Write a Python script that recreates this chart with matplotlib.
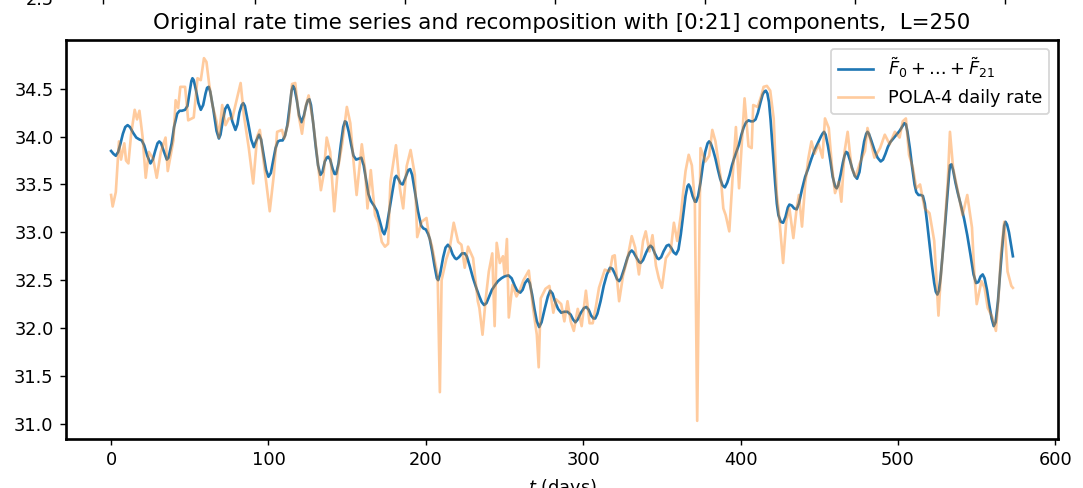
import matplotlib.pyplot as plt
import numpy as np

# Smoothed recomposition (sum of the first 22 elementary components)
recon_days = [0, 1.5, 3, 4.5, 6, 7.5, 9, 10.5, 12, 14, 16, 18, 19.5, 21, 23, 25, 26.5, 28, 29.5, 30.6,
              31.8, 33, 35.4, 36.5, 38.5, 40, 42, 43.5, 45, 47, 48.5, 50, 51, 51.7, 52.5, 54, 55.5, 57, 58.5, 60,
              61, 62, 63, 65, 67, 68.5, 69.5, 71, 72.5, 74, 75.5, 77, 79, 80.3, 81.5, 83, 84, 85, 87, 89,
              90.7, 92.3, 94, 95.3, 97, 98.5, 100, 101.5, 103, 104.5, 106, 107.5, 109, 110.5, 112, 113.5, 114.7, 115.6, 116.6, 118,
              119.5, 121, 122.5, 124, 125, 126, 127, 128.5, 130, 131.5, 133, 134.3, 135.8, 137, 138, 139.2, 140.8, 142, 143, 144.5,
              146, 147.5, 148.6, 149.5, 151, 152.5, 154, 155.7, 157.5, 159, 160.5, 162, 163.5, 165, 167, 169, 171, 172.5, 173.6, 175,
              177, 179, 180.3, 181.2, 182.5, 184, 185.3, 187, 188.8, 190, 191.3, 193, 195, 197, 198.5, 200, 201.5, 202.5, 204, 205.5,
              207, 207.8, 209, 211, 212.5, 214, 215.5, 217, 218.5, 219.4, 221, 223, 224.7, 226, 228, 230, 232, 234, 235.5, 237,
              238.5, 240, 242, 244, 245.8, 248, 250, 252.5, 254.5, 256.5, 258, 260, 261.5, 263, 264.8, 266, 267.5, 269, 270.5, 272,
              273.5, 275.5, 277.5, 279, 280.5, 282, 284, 286, 288, 290, 292, 293.5, 295, 296.5, 298.5, 300.5, 302, 303.5, 305, 306.5,
              307.6, 309, 311, 313, 315, 317, 318.5, 320, 321.5, 322.8, 324, 326, 328, 329.5, 330.8, 332, 334, 335.5, 336.5, 338,
              340, 341.5, 342.8, 344, 345.5, 347, 348, 349.5, 351, 353, 354.4, 355.8, 357.5, 359, 360.5, 362, 363.5, 365, 366.2, 367,
              368, 369.5, 371, 371.7, 373, 374.5, 376, 377.5, 379, 380, 381, 382.5, 384, 385.5, 387, 388.5, 390, 391.5, 393, 394.5,
              396, 397.5, 399, 400.5, 402, 403.5, 405, 406.5, 408, 409.5, 411, 412.5, 414, 415, 416, 417, 418, 419, 420, 421,
              422, 423, 424, 425.5, 427, 428.5, 430, 431, 432.5, 434, 435.6, 437, 439, 441, 443, 445, 447, 449, 451, 452,
              453, 454, 455.5, 457, 458.5, 460, 461, 462, 463.5, 465, 466, 467, 468, 469.5, 471, 472.5, 474, 475.5, 477, 478.5,
              479.8, 480.6, 481.5, 483, 485, 487, 489, 490.5, 492, 493.5, 495, 497, 499, 501, 502.5, 504, 505, 506, 507.5, 509,
              510.5, 511.6, 513, 514.5, 515.8, 517, 518.5, 520, 521.5, 523, 524, 525, 526, 527, 528.5, 530, 531.5, 532.5, 533, 534,
              535, 536.5, 538, 540, 542, 544, 546, 548, 549.6, 551, 552.5, 553.8, 555, 556.5, 558, 559.5, 560.8, 562, 563.5, 565,
              566.5, 567.5, 568.3, 569.3, 570.5, 572, 573]
recon_vals = [33.85, 33.82, 33.80, 33.84, 33.93, 34.03, 34.10, 34.12, 34.10, 34.04, 33.99, 33.97, 33.96, 33.91, 33.80, 33.72, 33.76, 33.85, 33.93, 33.95,
              33.93, 33.87, 33.76, 33.78, 33.93, 34.10, 34.24, 34.27, 34.27, 34.28, 34.32, 34.48, 34.58, 34.61, 34.59, 34.48, 34.35, 34.28, 34.33, 34.45,
              34.51, 34.52, 34.47, 34.28, 34.06, 33.98, 34.02, 34.17, 34.29, 34.33, 34.27, 34.16, 34.07, 34.13, 34.25, 34.33, 34.35, 34.32, 34.15, 33.97,
              33.89, 33.96, 34.02, 33.97, 33.80, 33.65, 33.58, 33.62, 33.75, 33.88, 33.95, 33.96, 33.96, 34.01, 34.12, 34.32, 34.48, 34.53, 34.50, 34.38,
              34.22, 34.15, 34.22, 34.33, 34.38, 34.39, 34.33, 34.13, 33.90, 33.70, 33.60, 33.63, 33.74, 33.78, 33.79, 33.76, 33.66, 33.61, 33.61, 33.72,
              33.92, 34.10, 34.16, 34.15, 34.05, 33.92, 33.80, 33.76, 33.77, 33.78, 33.70, 33.55, 33.40, 33.33, 33.28, 33.22, 33.10, 33.01, 32.98, 33.05,
              33.25, 33.45, 33.57, 33.59, 33.56, 33.51, 33.50, 33.57, 33.65, 33.66, 33.60, 33.43, 33.22, 33.07, 33.04, 33.03, 32.98, 32.93, 32.80, 32.65,
              32.52, 32.50, 32.56, 32.74, 32.84, 32.87, 32.84, 32.77, 32.73, 32.72, 32.74, 32.78, 32.78, 32.75, 32.64, 32.52, 32.42, 32.33, 32.27, 32.24,
              32.26, 32.32, 32.40, 32.45, 32.49, 32.52, 32.54, 32.55, 32.52, 32.44, 32.39, 32.37, 32.40, 32.47, 32.51, 32.47, 32.35, 32.20, 32.07, 32.01,
              32.06, 32.20, 32.33, 32.39, 32.36, 32.28, 32.20, 32.16, 32.17, 32.17, 32.14, 32.09, 32.06, 32.09, 32.16, 32.21, 32.22, 32.19, 32.13, 32.10,
              32.10, 32.15, 32.28, 32.44, 32.56, 32.63, 32.62, 32.57, 32.51, 32.49, 32.52, 32.62, 32.73, 32.79, 32.81, 32.79, 32.73, 32.69, 32.68, 32.71,
              32.79, 32.84, 32.86, 32.84, 32.78, 32.73, 32.72, 32.74, 32.80, 32.86, 32.87, 32.84, 32.79, 32.77, 32.82, 32.98, 33.18, 33.38, 33.48, 33.50,
              33.47, 33.38, 33.32, 33.32, 33.38, 33.52, 33.70, 33.84, 33.93, 33.95, 33.93, 33.86, 33.77, 33.66, 33.56, 33.49, 33.47, 33.52, 33.60, 33.70,
              33.78, 33.85, 33.92, 34.02, 34.10, 34.15, 34.17, 34.16, 34.16, 34.18, 34.25, 34.35, 34.44, 34.47, 34.48, 34.45, 34.36, 34.18, 33.95, 33.72,
              33.50, 33.30, 33.18, 33.11, 33.10, 33.16, 33.26, 33.29, 33.28, 33.25, 33.24, 33.30, 33.45, 33.58, 33.67, 33.77, 33.86, 33.93, 34.00, 34.03,
              34.05, 34.02, 33.90, 33.75, 33.58, 33.48, 33.46, 33.49, 33.60, 33.73, 33.80, 33.84, 33.83, 33.75, 33.66, 33.59, 33.56, 33.63, 33.80, 33.95,
              34.03, 34.05, 34.03, 33.96, 33.86, 33.78, 33.74, 33.76, 33.82, 33.89, 33.94, 33.98, 34.02, 34.06, 34.10, 34.14, 34.13, 34.05, 33.88, 33.68,
              33.50, 33.42, 33.39, 33.39, 33.38, 33.30, 33.10, 32.88, 32.66, 32.47, 32.38, 32.35, 32.39, 32.52, 32.80, 33.10, 33.42, 33.62, 33.70, 33.71,
              33.65, 33.52, 33.41, 33.28, 33.14, 32.97, 32.77, 32.56, 32.47, 32.48, 32.54, 32.56, 32.52, 32.40, 32.24, 32.10, 32.02, 32.06, 32.28, 32.60,
              32.90, 33.07, 33.11, 33.08, 33.00, 32.85, 32.75]

# POLA-4 daily rate
rate_days = [0, 1, 3, 5, 6.3, 8.4, 9.5, 11, 12.7, 15, 16.5, 18, 20, 22, 24, 26.7, 29, 31.6, 34.6, 36,
             39.6, 41, 42.6, 44, 47, 49, 52.5, 54.9, 57, 59, 60.6, 62.3, 64.4, 67, 68.5, 70.6, 72.7, 74.8, 77, 79,
             82.3, 84.4, 87.5, 90.3, 92.8, 94.5, 97.4, 100.8, 103.4, 105.5, 108.6, 110, 112.8, 115, 117, 119.2, 121.3, 123.4, 125.5, 128.3,
             131, 133.3, 135, 137, 139.2, 141.8, 144, 146.8, 149.8, 152, 154, 156, 159.3, 161.4, 162.9, 165, 167.7, 169.8, 172, 174,
             176, 177.5, 181, 183.5, 185.6, 187.8, 190.3, 193, 194.5, 197.3, 200.4, 202, 203.8, 205.7, 207.5, 208.9, 210, 213, 215, 217.7,
             220.5, 222.6, 224.7, 226.8, 230, 233, 234, 236, 238, 240, 242.2, 243.7, 245, 247, 249, 250, 251.5, 252.7, 255, 257.6,
             260, 262, 265.4, 268, 270.5, 271.7, 273, 276, 278.5, 281, 282.7, 286, 288, 290, 292, 294, 296.5, 299, 301.7, 304,
             306, 308, 310, 313.7, 316.9, 318.6, 320, 322.8, 325.3, 328, 330.8, 333, 335.4, 338, 339.7, 342, 344, 346.2, 348, 350,
             352.5, 355.5, 357.6, 359.7, 362, 363.3, 365, 367, 369, 370.9, 372.4, 374.5, 377.6, 380, 382, 384, 387.5, 389, 390.5, 392.8,
             395, 397, 399, 402.5, 405, 407, 408, 410.8, 413, 414.6, 416.7, 418.8, 421, 423, 424, 427, 429, 431, 433.5, 435.6,
             437, 439, 441, 443, 445, 447, 449.6, 452, 453.6, 456, 458, 460, 462.4, 464, 466, 468, 470.4, 473, 475.7, 479,
             480.6, 483, 485, 488.6, 491.6, 494.7, 498, 501, 503, 505, 507, 509.5, 511.6, 514, 516.9, 520, 523, 525.7, 527, 529,
             531.6, 533, 535, 538, 541, 544, 547, 548.5, 550, 553, 555, 557, 560, 562.2, 564, 565.4, 567.5, 569.6, 572, 573]
rate_vals = [33.39, 33.27, 33.42, 33.95, 33.76, 33.93, 33.75, 33.72, 34.02, 34.28, 34.18, 34.27, 34.00, 33.57, 33.84, 33.77, 33.57, 33.84, 33.99, 33.64,
             33.96, 34.38, 34.30, 34.52, 34.52, 34.17, 34.20, 34.61, 34.59, 34.82, 34.78, 34.55, 34.33, 34.16, 33.99, 34.33, 34.12, 34.19, 34.19, 34.33,
             34.56, 34.22, 33.88, 33.51, 34.00, 34.07, 33.68, 33.22, 33.60, 34.05, 34.07, 33.98, 34.16, 34.55, 34.56, 34.22, 34.03, 34.30, 34.43, 34.16,
             33.78, 33.44, 33.60, 33.99, 33.84, 33.22, 33.65, 33.92, 34.31, 34.14, 33.75, 33.39, 33.92, 33.65, 33.25, 33.65, 33.18, 33.10, 32.90, 32.85,
             32.88, 33.53, 33.91, 33.46, 33.25, 33.69, 33.86, 33.60, 32.95, 33.11, 33.15, 32.96, 32.86, 32.70, 32.55, 31.33, 32.50, 32.72, 32.82, 33.10,
             32.90, 32.87, 32.63, 32.85, 32.73, 32.28, 32.21, 31.93, 32.30, 32.59, 32.78, 32.02, 32.89, 32.68, 32.75, 32.56, 32.93, 32.11, 32.45, 32.33,
             32.41, 32.50, 32.60, 32.22, 31.93, 31.59, 32.31, 32.41, 32.44, 32.16, 32.30, 32.25, 32.07, 32.28, 32.07, 31.97, 32.20, 32.02, 32.39, 32.05,
             32.05, 32.22, 32.42, 32.61, 32.59, 32.75, 32.76, 32.28, 32.55, 32.72, 32.96, 32.84, 32.56, 32.91, 33.01, 32.80, 32.97, 32.65, 32.52, 32.42,
             32.73, 32.80, 33.10, 32.91, 33.18, 33.39, 33.64, 33.81, 33.70, 33.32, 31.03, 33.88, 33.74, 33.80, 34.07, 33.95, 33.55, 33.25, 33.18, 33.01,
             33.60, 34.10, 33.46, 34.40, 33.90, 33.88, 34.33, 34.31, 34.42, 34.52, 34.53, 34.48, 34.19, 33.39, 33.25, 32.68, 33.12, 33.25, 32.94, 33.25,
             33.39, 33.06, 33.50, 33.77, 33.95, 33.82, 33.92, 33.78, 34.19, 34.09, 33.69, 33.41, 33.53, 33.32, 33.84, 34.05, 33.68, 33.58, 33.72, 33.85,
             34.09, 33.92, 33.78, 33.88, 34.02, 33.92, 34.05, 33.99, 34.16, 34.19, 33.81, 33.67, 33.46, 33.50, 33.25, 33.20, 32.91, 32.13, 32.49, 32.91,
             33.53, 34.05, 33.67, 33.43, 33.18, 33.39, 33.05, 32.56, 32.25, 32.49, 32.42, 32.21, 32.11, 31.97, 32.36, 32.77, 33.11, 32.59, 32.44, 32.42]

fig = plt.figure(figsize=(1083 / 128, 488 / 128), dpi=128)

# bottom edge of the panel above (only its ticks reach into view)
ax_up = fig.add_axes([66 / 1083, 1.0 + 1.5 / 488, 992 / 1083, 0.4])
ax_up.set_xlim(0, 1)
ax_up.set_ylim(2.5, 5.0)
ax_up.set_yticks([2.5])
ax_up.set_xticks([(p - 66) / 992 for p in [103, 255, 405, 555, 705, 855, 1005]])
ax_up.tick_params(axis='x', labelbottom=False)

ax = fig.add_axes([66 / 1083, 49 / 488, 992 / 1083, 399 / 488])
ax.plot(recon_days, recon_vals, color='tab:blue', lw=1.5,
        label=r'$\tilde{F}_0+\ldots+\tilde{F}_{21}$')
ax.plot(rate_days, rate_vals, color='tab:orange', lw=1.5, alpha=0.4,
        label='POLA-4 daily rate')
ax.set_xticks([0, 100, 200, 300, 400, 500, 600])
ax.set_yticks([31.0, 31.5, 32.0, 32.5, 33.0, 33.5, 34.0, 34.5])
ax.set_title('Original rate time series and recomposition with [0:21] components,  L=250')
ax.set_xlabel('$t$ (days)')
ax.legend(loc='upper right')
for s in ax.spines.values():
    s.set_linewidth(1.5)

fig.savefig('out.png', dpi=128)
